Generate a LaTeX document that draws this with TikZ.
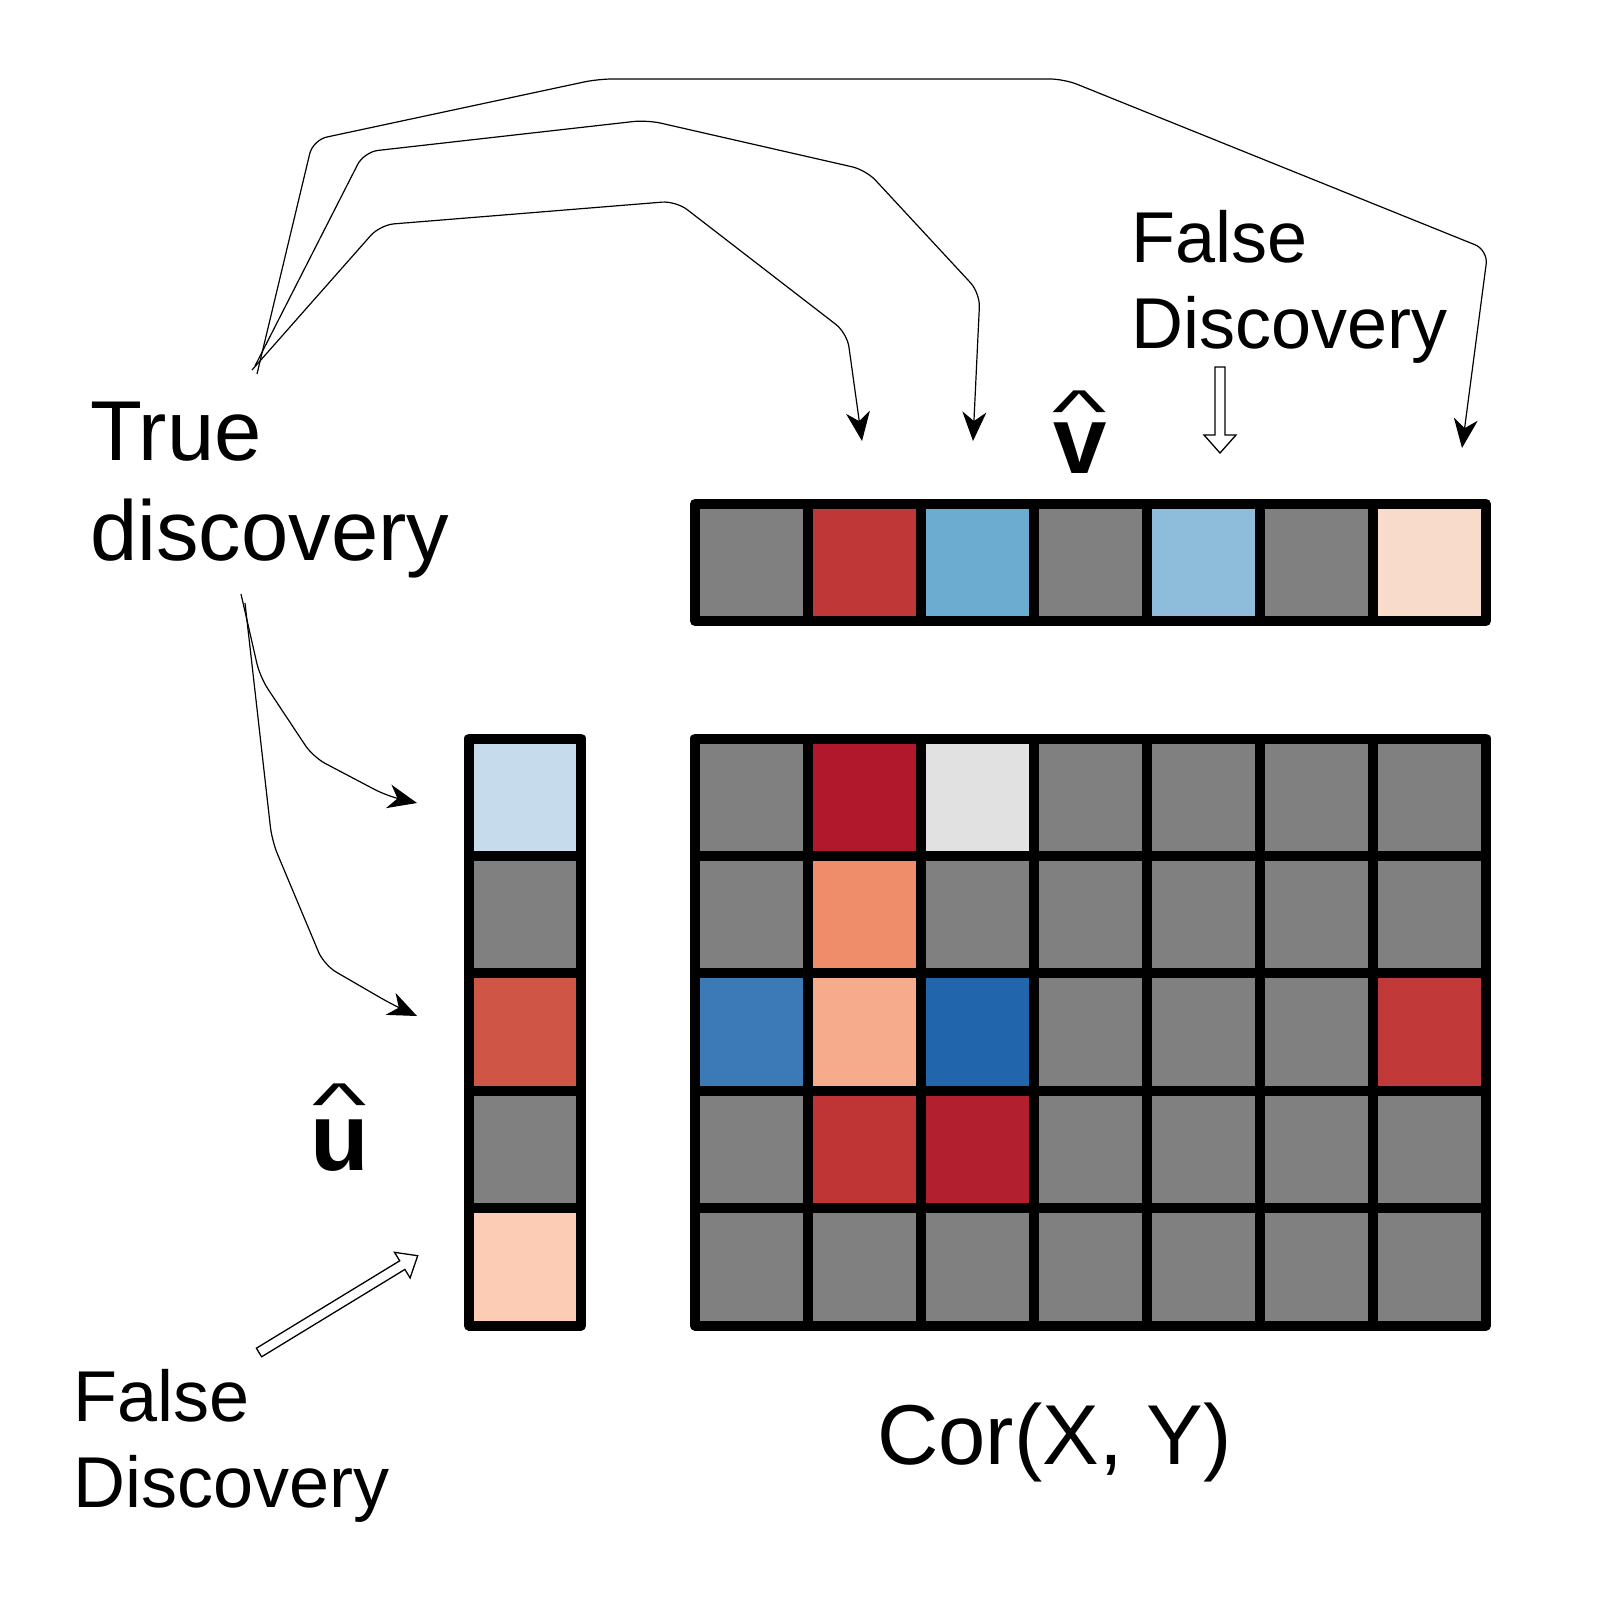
\documentclass[tikz,border=0pt]{standalone}
\usepackage{fontspec}
\setmainfont{Liberation Sans}
\usepackage{graphicx}
\usetikzlibrary{arrows.meta}

\definecolor{cgray}{HTML}{808080}
\definecolor{tred}{HTML}{BF3737}
\definecolor{tblue}{HTML}{6BACD0}
\definecolor{tlblue}{HTML}{8EBCDB}
\definecolor{tpeach}{HTML}{F8DBCA}
\definecolor{mdred}{HTML}{B2182B}
\definecolor{mlgray}{HTML}{E1E1E1}
\definecolor{morange}{HTML}{EF8C69}
\definecolor{mblue}{HTML}{3B79B7}
\definecolor{msalmon}{HTML}{F7AB8D}
\definecolor{mdblue}{HTML}{2166AC}
\definecolor{mred}{HTML}{C13939}
\definecolor{mred2}{HTML}{BF3536}
\definecolor{mdred2}{HTML}{B21F2E}
\definecolor{ublue}{HTML}{C6DCEC}
\definecolor{ured}{HTML}{CF5646}
\definecolor{upeach}{HTML}{FCCCB4}

\newcommand{\hatover}[2]{\vbox{\offinterlineskip\halign{\hfil##\hfil\cr
  \scalebox{1.05}[0.55]{\fontsize{110}{110}\selectfont\mdseries\textasciicircum}\cr
  \noalign{\kern#2}
  {\fontsize{96}{96}\selectfont\bfseries #1}\cr}}}

\begin{document}
\begin{tikzpicture}[x=1pt,y=-1pt,
  cellbox/.style={draw=black, line width=10pt, line join=round, minimum width=113pt, minimum height=117.4pt, inner sep=0pt, outer sep=0pt},
  conn/.style={line width=1.2pt, rounded corners=14pt, -{Stealth[length=29pt,width=24pt,inset=9pt]}},
  hollow/.style={draw=black, line width=1.3pt, fill=white, line join=miter},
  lbl/.style={inner sep=0pt, align=left, anchor=base west}]
\useasboundingbox (0,0) rectangle (1600,1600);
\fill[white] (0,0) rectangle (1600,1600);

% v-hat bar
\foreach \col [count=\k] in {cgray,tred,tblue,cgray,tlblue,cgray,tpeach}
  \node[cellbox, minimum height=117pt, fill=\col] (v\k) at (638.5+113*\k, 562.5) {};

% matrix
\foreach \r/\rowcols in {
  1/{cgray,mdred,mlgray,cgray,cgray,cgray,cgray},
  2/{cgray,morange,cgray,cgray,cgray,cgray,cgray},
  3/{mblue,msalmon,mdblue,cgray,cgray,cgray,mred},
  4/{cgray,mred2,mdred2,cgray,cgray,cgray,cgray},
  5/{cgray,cgray,cgray,cgray,cgray,cgray,cgray}}
  \foreach \col [count=\c] in \rowcols
    \node[cellbox, fill=\col] (m-\r-\c) at (638.5+113*\c, 679.8+117.4*\r) {};

% u-hat bar
\foreach \col [count=\k] in {ublue,cgray,ured,cgray,upeach}
  \node[cellbox, minimum width=112pt, fill=\col] (u\k) at (525, 679.8+117.4*\k) {};

% labels (base anchor = baseline of last line)
\node[lbl, font=\fontsize{85}{100}\selectfont] (truedisc) at (90,560) {True\\discovery};
\node[lbl, font=\fontsize{72}{86}\selectfont] (falsev) at (1131,348) {False\\Discovery};
\node[lbl, font=\fontsize{72}{86}\selectfont] (falseu) at (73,1507) {False\\Discovery};
\node[inner sep=0pt, anchor=base west, font=\fontsize{85}{100}\selectfont] (cor) at (877,1464) {Cor(X, Y)};
\node[inner sep=0pt, anchor=base] (vhat) at (1080,473) {\hatover{v}{-10pt}};
\node[inner sep=0pt, anchor=base] (uhat) at (340,1170) {\hatover{u}{-6pt}};

% true discovery connectors
\coordinate (s1) at (252,370);
\coordinate (s2) at (255,366);
\coordinate (s3) at (257,374);
\coordinate (t1) at (862,441);
\coordinate (t2) at (973,441);
\coordinate (t3) at (1462,448);
\draw[conn] (s1) -- (380,225) -- (676,201) -- (847,333) -- (t1);
\draw[conn] (s2) -- (364,152) -- (647,120) -- (866,170) -- (980,293) -- (t2);
\draw[conn] (s3) -- (313,140) -- (598,79) -- (1064,79) -- (1488,250) -- (t3);

\coordinate (s4) at (241,594);
\coordinate (s5) at (245,603);
\coordinate (t4) at (417,803);
\coordinate (t5) at (417,1016);
\draw[conn] (s4) -- (260,677) -- (313,757) -- (387,796) -- (t4);
\draw[conn] (s5) -- (272,841) -- (324,965) -- (393,1005) -- (t5);

% false discovery hollow arrows
\draw[hollow] (1215,367) -- (1225,367) -- (1225,435) -- (1236,435) -- (1220,453) -- (1204,435) -- (1215,435) -- cycle;
\draw[hollow] (256.4,1348.2) -- (399.7,1260.8) -- (394.5,1252.3) -- (417.7,1255.7) -- (410.1,1277.9) -- (404.9,1269.4) -- (261.6,1356.8) -- cycle;
\end{tikzpicture}
\end{document}
